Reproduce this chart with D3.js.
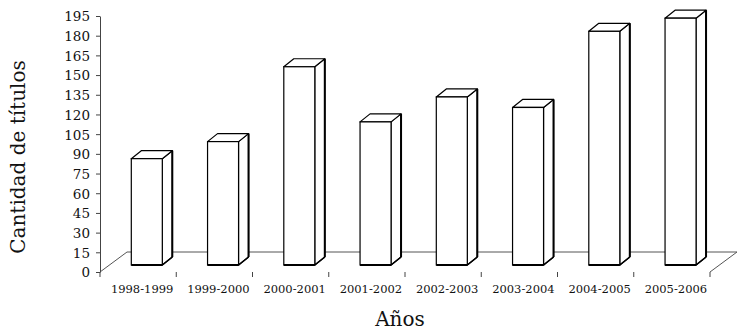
<!DOCTYPE html>
<html><head><meta charset="utf-8">
<script src="https://cdn.jsdelivr.net/npm/d3@7"></script>
<style>body{margin:0;background:#fff}svg{display:block}</style>
</head><body>
<script>
const categories = ["1998-1999","1999-2000","2000-2001","2001-2002","2002-2003","2003-2004","2004-2005","2005-2006"];
const values = [81, 94, 151, 109, 128, 120, 178, 188];
const yTicks = [0,15,30,45,60,75,90,105,120,135,150,165,180,195];
const yTitle = "Cantidad de títulos";
const xTitle = "Años";

const W = 739, H = 334;
const svg = d3.select("body").append("svg").attr("width", W).attr("height", H);
const font = "'DejaVu Serif', serif";

const x = d3.scaleBand().domain(categories).range([100, 710]).paddingInner(0).paddingOuter(0);
const y = d3.scaleLinear().domain([0, 195]).range([272, 16]);

const floorDx = 27, floorDy = -20;   // depth of floor
const barOffX = 9.5, barOffY = -7;   // bar front position in depth
const barDx = 10, barDy = -8;        // bar depth
const barW = 31;

// floor
const y0 = y(0);
const floor = svg.append("g").attr("stroke", "#555").attr("stroke-width", 1).attr("fill", "none");
floor.append("line").attr("x1", x.range()[0]).attr("y1", y0).attr("x2", x.range()[0] + floorDx).attr("y2", y0 + floorDy);
floor.append("line").attr("x1", x.range()[0] + floorDx).attr("y1", y0 + floorDy).attr("x2", x.range()[1] + floorDx).attr("y2", y0 + floorDy);
floor.append("line").attr("x1", x.range()[1]).attr("y1", y0).attr("x2", x.range()[1] + floorDx).attr("y2", y0 + floorDy);

// y axis
const yAxis = d3.axisLeft(y).tickValues(yTicks).tickSize(4).tickPadding(6).tickSizeOuter(0);
const ya = svg.append("g").attr("transform", "translate(100,0)").call(yAxis);
ya.select(".domain").attr("stroke", "#444");
ya.selectAll(".tick line").attr("stroke", "#444");
ya.selectAll("text").attr("font-family", font).attr("font-size", "13.5px").attr("fill", "#111").attr("dy", "0.36em");

// x ticks (no front line)
const boundaries = categories.map(c => x(c)).concat([x.range()[1]]);
svg.append("g").selectAll("line").data(boundaries).join("line")
  .attr("x1", d => d).attr("x2", d => d).attr("y1", y0).attr("y2", y0 + 5)
  .attr("stroke", "#444").attr("stroke-width", 1);
svg.append("g").selectAll("text").data(categories).join("text")
  .attr("x", d => x(d) + x.bandwidth() / 2 + 4).attr("y", 293)
  .attr("text-anchor", "middle").attr("font-family", font).attr("font-size", "11.5px").attr("fill", "#111")
  .text(d => d);

// bars
const bars = svg.append("g");
categories.forEach((c, i) => {
  const fx = x(c) + 31.3;
  const fb = y(0) + barOffY;
  const ft = y(values[i]) + barOffY;
  const g = bars.append("g");
  // side face
  g.append("path").attr("d", `M${fx+barW},${fb} L${fx+barW+barDx},${fb+barDy} L${fx+barW+barDx},${ft+barDy} L${fx+barW},${ft} Z`)
    .attr("fill", "#fff").attr("stroke", "#000").attr("stroke-width", 1.2).attr("stroke-linejoin", "round");
  // top face
  g.append("path").attr("d", `M${fx},${ft} L${fx+barDx},${ft+barDy} L${fx+barW+barDx},${ft+barDy} L${fx+barW},${ft} Z`)
    .attr("fill", "#fff").attr("stroke", "#000").attr("stroke-width", 1.2).attr("stroke-linejoin", "round");
  // front face
  g.append("rect").attr("x", fx).attr("y", ft).attr("width", barW).attr("height", fb - ft)
    .attr("fill", "#fff").attr("stroke", "#000").attr("stroke-width", 1.2);
  // emphasised edges
  g.append("line").attr("x1", fx).attr("y1", fb).attr("x2", fx + barW).attr("y2", fb).attr("stroke", "#000").attr("stroke-width", 2);
  g.append("line").attr("x1", fx + barW + barDx).attr("y1", fb + barDy).attr("x2", fx + barW + barDx).attr("y2", ft + barDy).attr("stroke", "#000").attr("stroke-width", 2);
  g.append("line").attr("x1", fx + barW).attr("y1", fb).attr("x2", fx + barW + barDx).attr("y2", fb + barDy).attr("stroke", "#000").attr("stroke-width", 1.6);
});

// titles
svg.append("text").attr("x", 400).attr("y", 326).attr("text-anchor", "middle")
  .attr("font-family", font).attr("font-size", "20px").attr("fill", "#111").text(xTitle);
svg.append("text").attr("transform", "translate(25,157) rotate(-90)").attr("text-anchor", "middle")
  .attr("font-family", font).attr("font-size", "20px").attr("fill", "#111").text(yTitle);
</script>
</body></html>
